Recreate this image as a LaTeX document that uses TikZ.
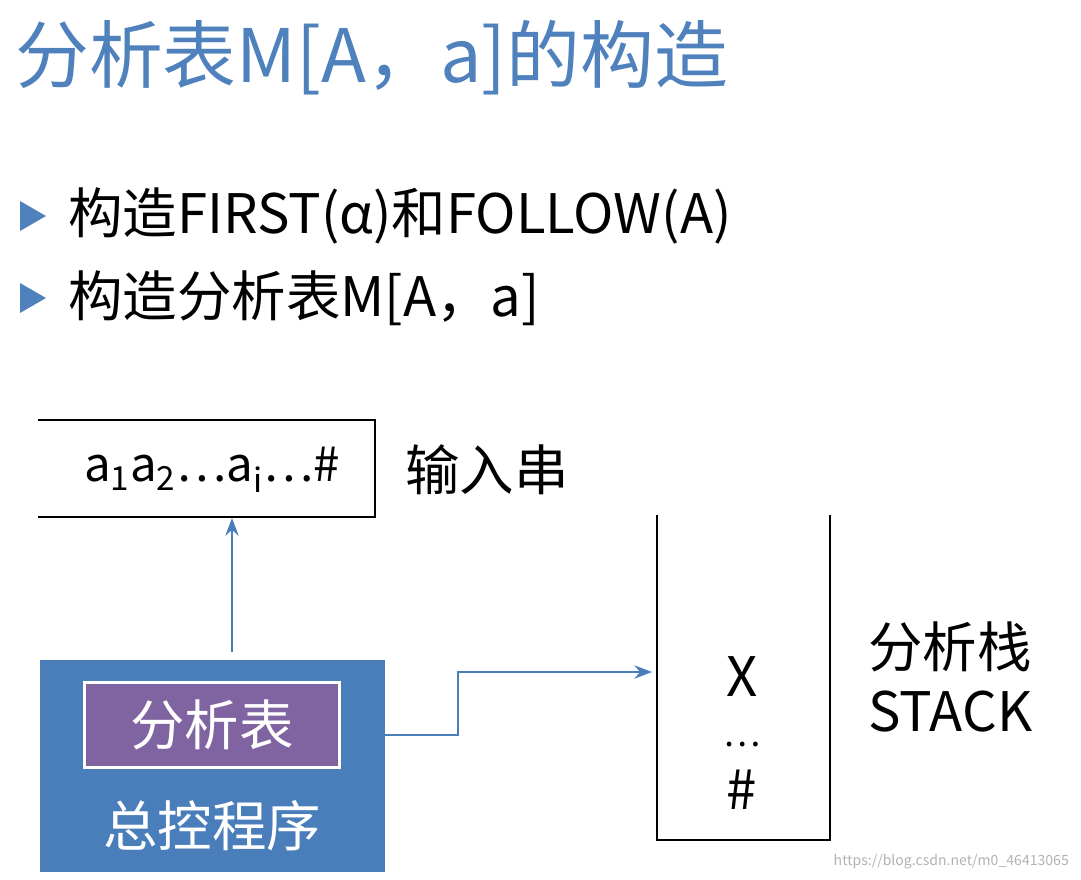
\documentclass[tikz,border=0pt]{standalone}
\usepackage{fontspec}
\setmainfont{Noto Sans CJK SC}
\usetikzlibrary{arrows.meta}
\definecolor{titleblue}{HTML}{4F81BD}
\definecolor{boxblue}{HTML}{4A7EBB}
\definecolor{tablepurple}{HTML}{8064A2}
\tikzset{
  wire/.style={boxblue, line width=1.5pt},
  bigtext/.style={font=\fontsize{31}{36}\selectfont},
}
\begin{document}
\begin{tikzpicture}[x=0.02cm,y=-0.02cm]
      \useasboundingbox (0,0) rectangle (1081,879);

      % titulo
      \node[anchor=west, titleblue, font=\fontsize{42}{48}\selectfont, inner sep=0pt] (title) at (15,58) {分析表M[A，a]的构造};

      % itens
      \foreach \y/\t in {216/{构造FIRST(α)和FOLLOW(A)}, 298/{构造分析表M[A，a]}} {
        \fill[titleblue] (20,\y-15) -- (46,\y) -- (20,\y+15) -- cycle;
        \node[anchor=west, bigtext, inner sep=0pt] at (68,\y) {\t};
      }

      % entrada
      \draw[line width=1.4pt] (38,420) -- (375,420) -- (375,517) -- (38,517);
      \node[font=\fontsize{27}{32}\selectfont] (input) at (212,470) {a\textsubscript{1}a\textsubscript{2}…a\textsubscript{i}…\#};
      \node[anchor=west, bigtext, inner sep=0pt] (inlabel) at (405,470) {输入串};
      \coordinate (inbot) at (232,518);

      % controle
      \fill[boxblue] (40,660) rectangle (385,872);
      \node[draw=white, line width=1.8pt, fill=tablepurple, text=white, minimum width=5.1cm,
            minimum height=1.7cm, bigtext] (table) at (212,725) {分析表};
      \node[text=white, bigtext] (ctrl) at (212,826) {总控程序};
      \coordinate (ctrltop) at (232,652);
      \coordinate (ctrlright) at (385,735);

      % pilha
      \draw[line width=1.4pt] (657,515) -- (657,840) -- (830,840) -- (830,515);
      \node[bigtext, inner sep=0pt] (top) at (742,677) {X};
      \node[font=\fontsize{20}{24}\selectfont, inner sep=0pt] (dots) at (742,745) {…};
      \node[bigtext, inner sep=0pt] (bot) at (742,790) {\#};
      \node[bigtext, align=left, anchor=west, inner sep=0pt] (stack) at (868,677) {分析栈\\STACK};
      \coordinate (stackin) at (652,672);

      % conexoes
      \draw[wire, -{Stealth[length=10pt]}] (ctrltop) -- (inbot);
      \draw[wire, -{Stealth[length=10pt]}] (ctrlright) -- (458,735) -- (458,672) -- (stackin);

      \node[anchor=east, gray!60, font=\fontsize{8}{9}\selectfont] (mark) at (1075,862) {https://blog.csdn.net/m0\_46413065};
  \end{tikzpicture}
\end{document}
